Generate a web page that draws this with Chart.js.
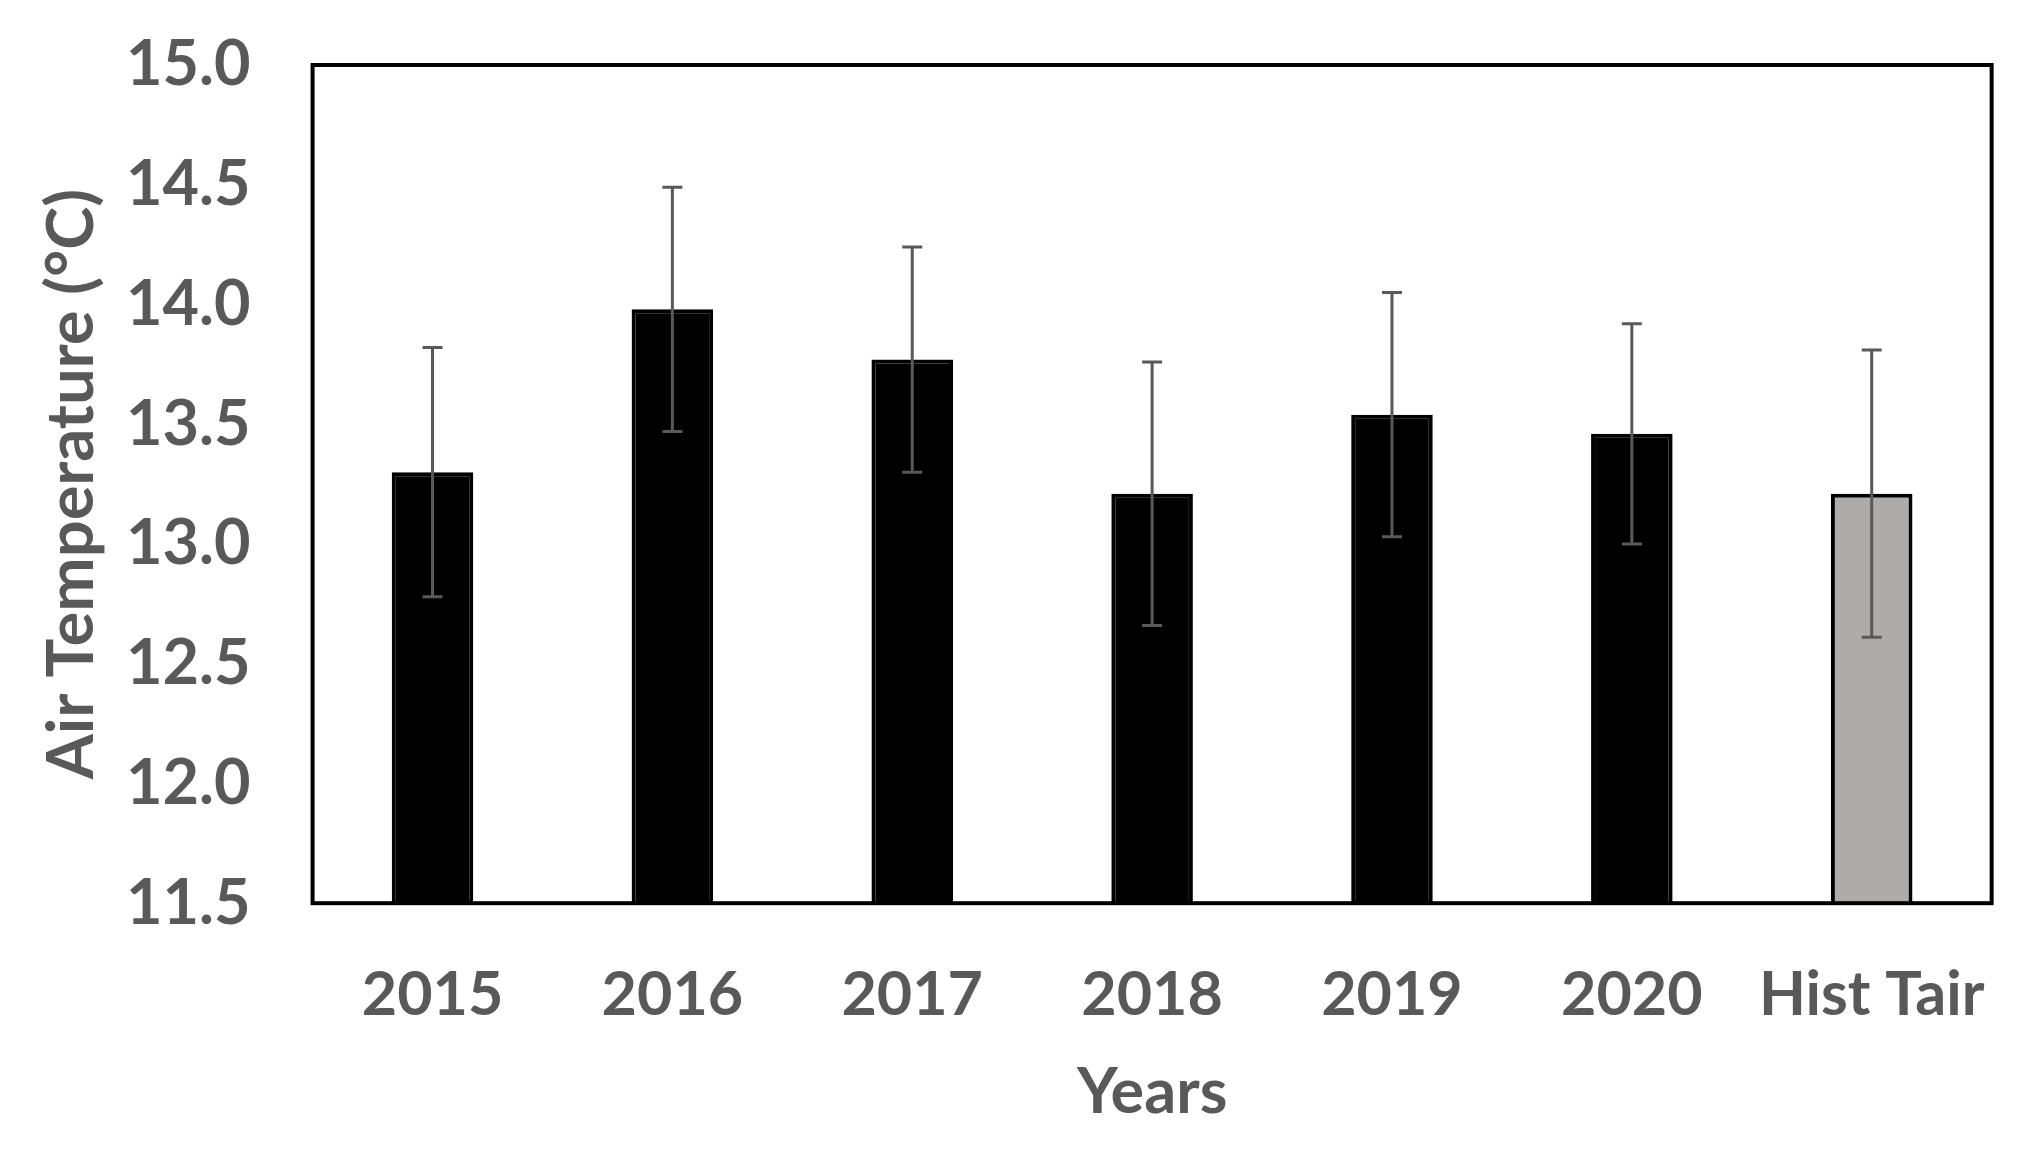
<!DOCTYPE html>
<html>
<head>
<meta charset="utf-8">
<script src="https://cdn.jsdelivr.net/npm/chart.js@4.4.0/dist/chart.umd.min.js"></script>
<style>
  html, body { margin: 0; padding: 0; background: #fff; }
  #wrap { width: 2044px; height: 1160px; }
</style>
</head>
<body>
<div id="wrap"><canvas id="bar"></canvas></div>
<script>
const categories = ["2015", "2016", "2017", "2018", "2019", "2020", "Hist Tair"];
const meanTemp = [13.30, 13.98, 13.77, 13.21, 13.54, 13.46, 13.21];
const errTemp = [0.52, 0.51, 0.47, 0.55, 0.51, 0.46, 0.60];
const yTicks = [11.5, 12.0, 12.5, 13.0, 13.5, 14.0, 14.5, 15.0];

const grey = "#595959";
const font = "Lato";

// error bars, drawn from the data through the y scale
const errorBars = {
  id: "errorBars",
  afterDatasetsDraw(chart) {
    const ctx = chart.ctx;
    const y = chart.scales.y;
    const meta = chart.getDatasetMeta(0);
    ctx.save();
    ctx.strokeStyle = grey;
    ctx.lineWidth = 3;
    meta.data.forEach((bar, i) => {
      const top = y.getPixelForValue(meanTemp[i] + errTemp[i]);
      const bot = y.getPixelForValue(meanTemp[i] - errTemp[i]);
      ctx.beginPath();
      ctx.moveTo(bar.x, top);
      ctx.lineTo(bar.x, bot);
      ctx.moveTo(bar.x - 10, top);
      ctx.lineTo(bar.x + 10, top);
      ctx.moveTo(bar.x - 10, bot);
      ctx.lineTo(bar.x + 10, bot);
      ctx.stroke();
    });
    ctx.restore();
  }
};

// black frame round the plot area
const frame = {
  id: "frame",
  afterDraw(chart) {
    const a = chart.chartArea;
    const ctx = chart.ctx;
    ctx.save();
    ctx.strokeStyle = "#000";
    ctx.lineWidth = 4;
    ctx.strokeRect(a.left, a.top, a.right - a.left, a.bottom - a.top);
    ctx.restore();
  }
};

new Chart(document.getElementById("bar"), {
  type: "bar",
  data: {
    labels: categories,
    datasets: [
      {
        data: meanTemp,
        backgroundColor: categories.map((c) => (c === "Hist Tair" ? "#AEABAB" : "#000")),
        borderColor: "#000",
        borderWidth: 4,
        barPercentage: 0.68,
        categoryPercentage: 0.5,
      },
    ],
  },
  options: {
    responsive: true,
    maintainAspectRatio: false,
    animation: false,
    layout: { padding: { top: 65, right: 50, bottom: 30, left: 33 } },
    plugins: { legend: { display: false }, tooltip: { enabled: false } },
    scales: {
      x: {
        grid: { display: false, drawTicks: false },
        border: { display: false },
        ticks: { color: grey, padding: 56, font: { family: font, size: 61, weight: "bold" } },
        title: {
          display: true,
          text: "Years",
          color: grey,
          padding: { top: -34, bottom: 0 },
          font: { family: font, size: 63, weight: "bold" },
        },
      },
      y: {
        min: 11.5,
        max: 15.0,
        afterBuildTicks: (axis) => {
          axis.ticks = yTicks.map((v) => ({ value: v }));
        },
        afterFit: (axis) => {
          axis.paddingTop = 0;
        },
        grid: { display: false, drawTicks: false },
        border: { display: false },
        ticks: {
          color: grey,
          padding: 62,
          font: { family: font, size: 63, weight: "bold" },
          callback: (v) => Number(v).toFixed(1),
        },
        title: {
          display: true,
          text: "Air Temperature (°C)",
          color: grey,
          padding: { top: 0, bottom: -47 },
          font: { family: font, size: 65, weight: "bold" },
        },
      },
    },
  },
  plugins: [errorBars, frame],
});
</script>
</body>
</html>
